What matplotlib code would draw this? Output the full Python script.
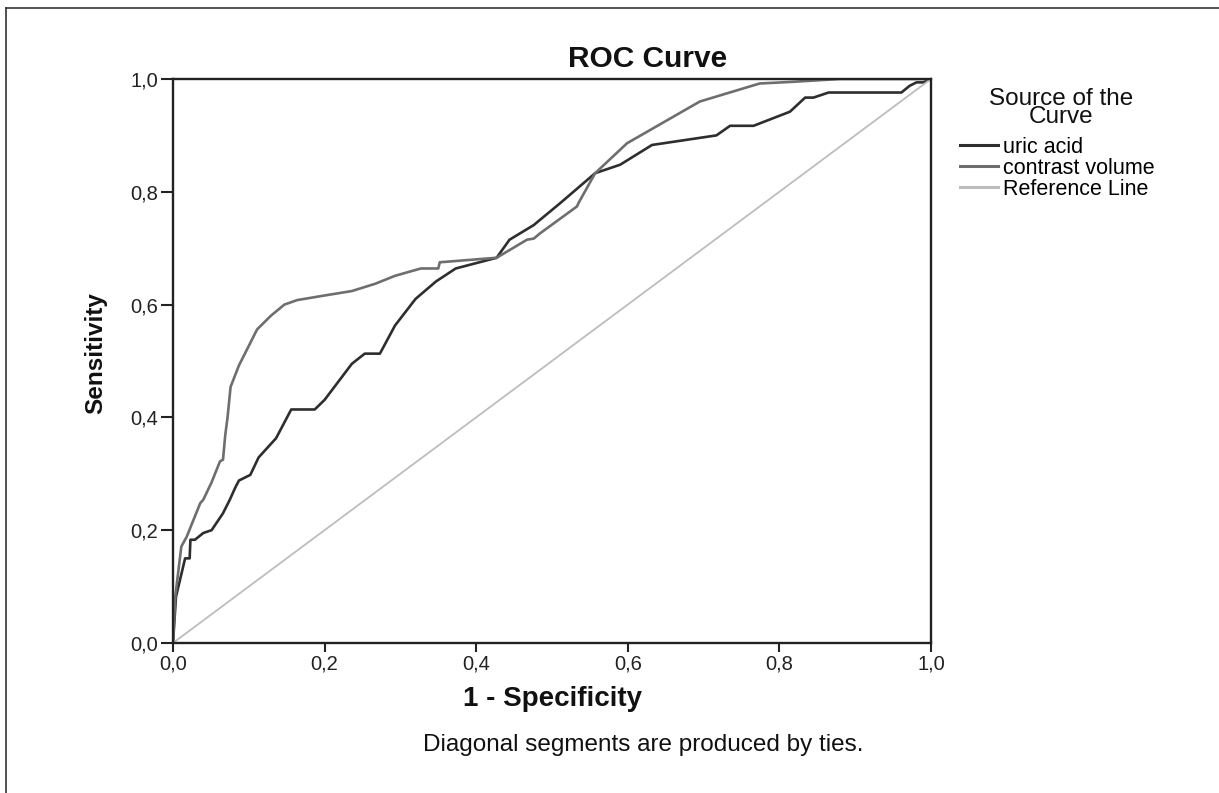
import matplotlib

matplotlib.use("Agg")
import matplotlib.pyplot as plt
from matplotlib.lines import Line2D
from matplotlib.ticker import FuncFormatter

plt.rcParams["font.family"] = ["Liberation Sans", "DejaVu Sans"]

# values
uric_fpr = [0, 0.004, 0.016, 0.022, 0.023, 0.029, 0.040, 0.051, 0.066, 0.075, 0.082, 0.087, 0.102, 0.113,
            0.136, 0.156, 0.187, 0.200, 0.236, 0.253, 0.273, 0.293, 0.320, 0.347, 0.373, 0.427, 0.444,
            0.476, 0.484, 0.511, 0.557, 0.590, 0.632, 0.717, 0.735, 0.766, 0.814, 0.834, 0.845, 0.865,
            0.961, 0.972, 0.981, 0.990, 1.0]
uric_tpr = [0, 0.082, 0.150, 0.150, 0.183, 0.183, 0.195, 0.200, 0.230, 0.254, 0.275, 0.288, 0.298, 0.329,
            0.363, 0.414, 0.414, 0.431, 0.495, 0.513, 0.513, 0.563, 0.610, 0.641, 0.664, 0.683, 0.715,
            0.741, 0.750, 0.780, 0.833, 0.848, 0.883, 0.900, 0.917, 0.917, 0.942, 0.967, 0.967, 0.976,
            0.976, 0.988, 0.994, 0.994, 1.0]

contrast_fpr = [0, 0.003, 0.011, 0.018, 0.036, 0.040, 0.051, 0.062, 0.066, 0.069, 0.072, 0.076, 0.087,
                0.111, 0.129, 0.147, 0.164, 0.204, 0.236, 0.267, 0.293, 0.327, 0.350, 0.352, 0.427, 0.467,
                0.476, 0.484, 0.533, 0.535, 0.557, 0.599, 0.695, 0.774, 0.818, 0.880, 1.0]
contrast_tpr = [0, 0.082, 0.171, 0.188, 0.248, 0.254, 0.285, 0.322, 0.325, 0.369, 0.400, 0.454, 0.492,
                0.556, 0.580, 0.600, 0.608, 0.617, 0.624, 0.637, 0.651, 0.664, 0.664, 0.675, 0.683, 0.715,
                0.717, 0.726, 0.774, 0.780, 0.833, 0.886, 0.960, 0.992, 0.995, 1.0, 1.0]

ref_line = [0, 1]
ticks = [0.0, 0.2, 0.4, 0.6, 0.8, 1.0]
series_names = ["uric acid", "contrast volume", "Reference Line"]
colors = ["#2e2e2e", "#6e6e6e", "#bdbdbd"]

fig = plt.figure(figsize=(12.19, 7.93), dpi=100)
ax = fig.add_axes([0.1419, 0.1892, 0.6218, 0.7112])

ax.plot(uric_fpr, uric_tpr, color=colors[0], lw=1.9, label=series_names[0])
ax.plot(contrast_fpr, contrast_tpr, color=colors[1], lw=1.9, label=series_names[1])
ax.plot(ref_line, ref_line, color=colors[2], lw=1.3, label=series_names[2])

ax.set_xlim(0, 1)
ax.set_ylim(0, 1)
ax.set_xticks(ticks)
ax.set_yticks(ticks)
comma = FuncFormatter(lambda v, pos: f"{v:.1f}".replace(".", ","))
ax.xaxis.set_major_formatter(comma)
ax.yaxis.set_major_formatter(comma)
ax.tick_params(axis="x", direction="out", length=6.5, width=1.5, pad=2, labelsize=14.5, colors="#222222")
ax.tick_params(axis="y", direction="out", length=8.5, width=1.5, pad=2, labelsize=14.5, colors="#222222")
for s in ax.spines.values():
    s.set_linewidth(1.7)
    s.set_color("#222222")

fig.text(0.531, 0.9256, "ROC Curve", ha="center", va="center", fontsize=21.5, fontweight="bold", color="#111111")
fig.text(0.453, 0.1185, "1 - Specificity", ha="center", va="center", fontsize=20, fontweight="bold",
         color="#111111")
fig.text(0.0788, 0.555, "Sensitivity", ha="center", va="center", rotation=90, fontsize=17.5,
         fontweight="bold", color="#111111")
fig.text(0.5275, 0.0605, "Diagonal segments are produced by ties.", ha="center", va="center",
         fontsize=17.5, color="#111111")

# legend title is drawn separately so its gap to the entries can match
fig.text(1061 / 1219, 1 - 108 / 793, "Source of the\nCurve", ha="center", va="center",
         fontsize=17.5, linespacing=0.8, color="#111111")
leg = fig.legend(loc="upper left", bbox_to_anchor=(960 / 1219, 1 - 137 / 793), frameon=False,
                 fontsize=15.5, handlelength=1.75, handletextpad=0.25, labelspacing=0.0,
                 borderpad=0, borderaxespad=0)
for line in leg.get_lines():
    line.set_linewidth(2.2)

# outer chart frame (only left and top edges visible in the picture)
fig.add_artist(Line2D([6 / 1219, 6 / 1219], [0, 1 - 8 / 793], transform=fig.transFigure,
                      color="#333333", lw=1.2))
fig.add_artist(Line2D([6 / 1219, 1], [1 - 8 / 793, 1 - 8 / 793], transform=fig.transFigure,
                      color="#333333", lw=1.2))

fig.savefig("out.png", dpi=100)
plt.close(fig)
